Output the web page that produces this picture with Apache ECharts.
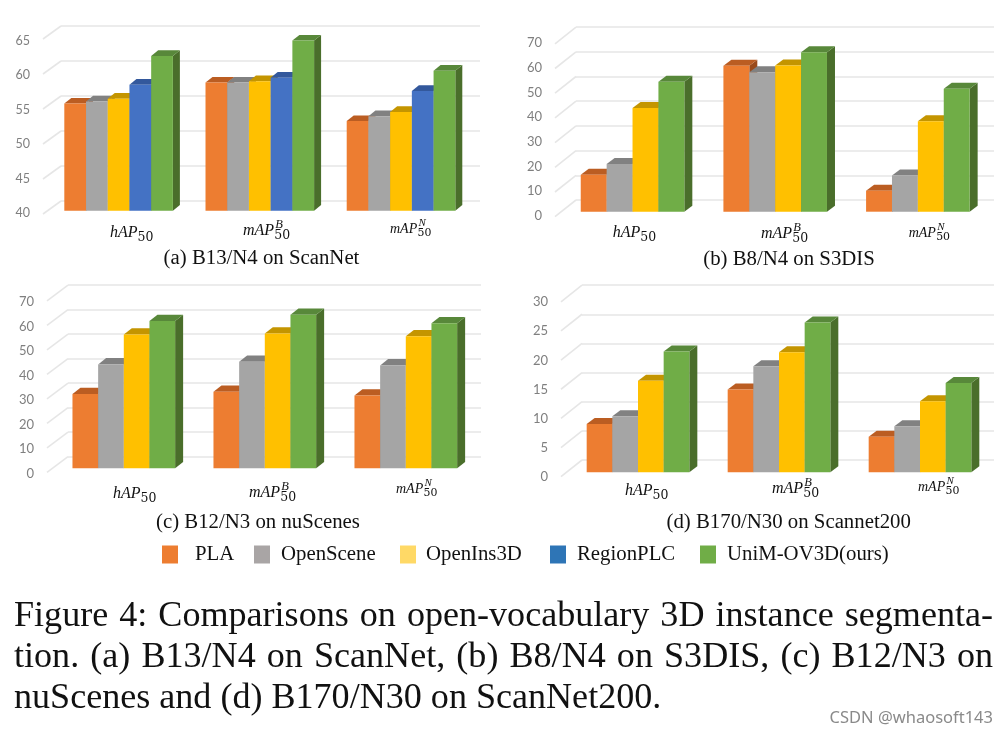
<!DOCTYPE html>
<html><head><meta charset="utf-8">
<style>html,body{margin:0;padding:0;background:#fff}#c{width:1007px;height:733px}</style>
<script src="https://cdn.jsdelivr.net/npm/echarts@6/dist/echarts.min.js"></script>
</head><body><div id="c"></div>
<script>
const categories = ['hAP','mAP','mAP'];
const subLabels = ['50','50','50'];
const supLabels = ['','B','N'];
const methods = ['PLA','OpenScene','OpenIns3D','RegionPLC','UniM-OV3D(ours)'];

const scannetPLA = [55.3,58.3,52.8];
const scannetOpenScene = [55.6,58.3,53.5];
const scannetOpenIns3D = [56.0,58.5,54.1];
const scannetRegionPLC = [58.0,59.0,57.1];
const scannetOurs = [62.1,64.3,60.0];

const s3disPLA = [15.0,59.1,8.5];
const s3disOpenScene = [19.3,56.5,14.7];
const s3disOpenIns3D = [42.0,59.2,36.6];
const s3disOurs = [52.6,64.6,49.8];

const nuscenesPLA = [30.3,31.2,29.7];
const nuscenesOpenScene = [42.4,43.5,42.0];
const nuscenesOpenIns3D = [54.6,55.0,53.9];
const nuscenesOurs = [60.1,62.7,59.2];

const sn200PLA = [8.3,14.2,6.1];
const sn200OpenScene = [9.6,18.2,7.9];
const sn200OpenIns3D = [15.7,20.6,12.2];
const sn200Ours = [20.7,25.7,15.3];

const axisA = {min:40,max:65,interval:5};
const axisB = {min:0,max:70,interval:10};
const axisC = {min:0,max:70,interval:10};
const axisD = {min:0,max:30,interval:5};

const captionTexts = ['(a) B13/N4 on ScanNet','(b) B8/N4 on S3DIS','(c) B12/N3 on nuScenes','(d) B170/N30 on Scannet200'];
const figureLines = ['Figure 4: Comparisons on open-vocabulary 3D instance segmenta-',
 'tion. (a) B13/N4 on ScanNet, (b) B8/N4 on S3DIS, (c) B12/N3 on',
 'nuScenes and (d) B170/N30 on ScanNet200.'];
const watermark = 'CSDN @whaosoft143';

const front = {PLA:'#ED7D31',OpenScene:'#A5A5A5',OpenIns3D:'#FFC000',RegionPLC:'#4472C4','UniM-OV3D(ours)':'#70AD47'};
const topC  = {PLA:'#BB5D22',OpenScene:'#818181',OpenIns3D:'#C49500',RegionPLC:'#33589C','UniM-OV3D(ours)':'#58883A'};
const sideC = {PLA:'#9A4A1A',OpenScene:'#6E6E6E',OpenIns3D:'#A37C00',RegionPLC:'#2B4A83','UniM-OV3D(ours)':'#4A6E2B'};
const legendC = {PLA:'#ED7D31',OpenScene:'#A9A5A5',OpenIns3D:'#FFD966',RegionPLC:'#2E75B6','UniM-OV3D(ours)':'#70AD47'};

const panels = [
 {axis:axisA, names:methods, vals:[scannetPLA,scannetOpenScene,scannetOpenIns3D,scannetRegionPLC,scannetOurs],
  wall:{l:61,r:480,b:201,ppu:7}, bars:{l:48,r:471.6,b:210.7,ppu:7,ratio:0.769,dx:7,dy:5.7},
  lab:{right:30,top:41,bottom:213,size:12.5}, diag:[-18,13], cat:[[110,233,16],[243,231,16],[390,229,14]]},
 {axis:axisB, names:[methods[0],methods[1],methods[2],methods[4]], vals:[s3disPLA,s3disOpenScene,s3disOpenIns3D,s3disOurs],
  wall:{l:576,r:994,b:200,ppu:2.47}, bars:{l:561.2,r:989.2,b:211.7,ppu:2.47,ratio:0.726,dx:8,dy:6},
  lab:{right:542,top:43,bottom:216,size:13}, diag:[-21,16.7], cat:[[612.7,233,16],[761,234,16],[908.7,233,14]]},
 {axis:axisC, names:[methods[0],methods[1],methods[2],methods[4]], vals:[nuscenesPLA,nuscenesOpenScene,nuscenesOpenIns3D,nuscenesOurs],
  wall:{l:68,r:481,b:456.7,ppu:2.45}, bars:{l:53.3,r:476.3,b:468.3,ppu:2.45,ratio:0.728,dx:8,dy:6.3},
  lab:{right:34,top:302,bottom:473.7,size:13}, diag:[-21,15.6], cat:[[113,494,16],[249,493,16],[396,489,14]]},
 {axis:axisD, names:[methods[0],methods[1],methods[2],methods[4]], vals:[sn200PLA,sn200OpenScene,sn200OpenIns3D,sn200Ours],
  wall:{l:582,r:994,b:460,ppu:5.83}, bars:{l:567.5,r:990.5,b:472.3,ppu:5.83,ratio:0.728,dx:8,dy:6},
  lab:{right:548,top:302,bottom:477,size:13}, diag:[-21,16.7], cat:[[625,491,16],[772,489,16],[918,487,14]]}
];
const captionPos = [[261.5,258.5],[789,259.5],[258,523],[788.7,522.5]];
const W = 1007, H = 733;
const serif = '"Liberation Serif","Times New Roman",serif';

const grid=[],xAxis=[],yAxis=[],series=[],graphic=[];
panels.forEach((p,pi)=>{
  const a=p.axis, span=a.max-a.min;
  const ax0=grid.length;
  grid.push({left:p.wall.l,width:p.wall.r-p.wall.l,top:p.wall.b-span*p.wall.ppu,height:span*p.wall.ppu});
  xAxis.push({gridIndex:ax0,type:'category',data:categories,show:false});
  yAxis.push({gridIndex:ax0,type:'value',min:a.min,max:a.max,interval:a.interval,
    axisLine:{show:false},axisTick:{show:false},axisLabel:{show:false},
    splitLine:{show:true,lineStyle:{color:'#E6E6E6',width:1.6}}});
  const ticks=[]; for(let t=a.min;t<=a.max;t+=a.interval) ticks.push([0,t]);
  series.push({type:'custom',silent:true,xAxisIndex:ax0,yAxisIndex:ax0,data:ticks,clip:false,z:1,
    encode:{x:0,y:1},
    renderItem:(params,api)=>{
      const y=api.coord([0,api.value(1)])[1];
      return {type:'line',shape:{x1:p.wall.l,y1:y,x2:p.wall.l+p.diag[0],y2:y+p.diag[1]},
        style:{stroke:'#E6E6E6',lineWidth:1.6}};
    }});
  const ax1=grid.length;
  grid.push({left:p.lab.right,width:10,top:p.lab.top,height:p.lab.bottom-p.lab.top});
  xAxis.push({gridIndex:ax1,type:'category',data:categories,show:false});
  yAxis.push({gridIndex:ax1,type:'value',min:a.min,max:a.max,interval:a.interval,
    axisLine:{show:false},axisTick:{show:false},splitLine:{show:false},
    axisLabel:{margin:0,color:'#7F7F7F',fontFamily:'Lato',fontSize:p.lab.size}});
  const ax2=grid.length;
  grid.push({left:p.bars.l,width:p.bars.r-p.bars.l,top:p.bars.b-span*p.bars.ppu,height:span*p.bars.ppu});
  xAxis.push({gridIndex:ax2,type:'category',data:categories,show:false});
  yAxis.push({gridIndex:ax2,type:'value',min:a.min,max:a.max,interval:a.interval,show:false});
  const n=p.names.length;
  p.names.forEach((name,si)=>{
    series.push({type:'custom',name,silent:true,xAxisIndex:ax2,yAxisIndex:ax2,clip:false,z:2+si,
      itemStyle:{color:front[name]},encode:{x:0,y:1},
      data:p.vals[si].map((v,i)=>[i,v]),
      renderItem:(params,api)=>{
        const i=api.value(0), pt=api.coord([i,api.value(1)]), base=api.coord([i,a.min])[1];
        const band=api.size([1,0])[0], gw=band*p.bars.ratio, bw=gw/n;
        const x=pt[0]-gw/2+si*bw, x2=x+bw, y=pt[1], dx=p.bars.dx, dy=p.bars.dy;
        return {type:'group',children:[
          {type:'polygon',shape:{points:[[x2,y],[x2+dx,y-dy],[x2+dx,base-dy],[x2,base]]},style:{fill:sideC[name]}},
          {type:'polygon',shape:{points:[[x,y],[x+dx,y-dy],[x2+dx,y-dy],[x2,y]]},style:{fill:topC[name]}},
          {type:'rect',shape:{x:x,y:y,width:bw,height:base-y},style:{fill:front[name]}}
        ]};
      }});
  });
  categories.forEach((c,i)=>{
    const [cx,cy,fs]=p.cat[i];
    const w=c==='hAP'?fs*1.72:fs*1.96;
    const ss=fs*0.78;
    graphic.push({type:'text',z:20,style:{text:c,x:cx,y:cy,fill:'#111',verticalAlign:'middle',font:`italic ${fs}px ${serif}`}});
    graphic.push({type:'text',z:20,style:{text:subLabels[i],x:cx+w,y:cy+fs*0.3,fill:'#111',verticalAlign:'middle',font:`${ss}px "DejaVu Serif",serif`}});
    if(supLabels[i]) graphic.push({type:'text',z:20,style:{text:supLabels[i],x:cx+w+1,y:cy-fs*0.42,fill:'#111',verticalAlign:'middle',font:`italic ${ss}px ${serif}`}});
  });
  graphic.push({type:'text',z:20,style:{text:captionTexts[pi],x:captionPos[pi][0],y:captionPos[pi][1],align:'center',verticalAlign:'middle',fill:'#111',font:`20.8px ${serif}`}});
});
const figY=[617,658,699], figFont=`36.1px ${serif}`, figRight=[993,993,0];
const mctx=document.createElement('canvas').getContext('2d'); mctx.font=figFont;
figureLines.forEach((t,i)=>{
  if(!figRight[i]){graphic.push({type:'text',z:20,style:{text:t,x:14,y:figY[i],verticalAlign:'middle',fill:'#111',font:figFont}});return;}
  const words=t.split(' '), total=words.reduce((s,w)=>s+mctx.measureText(w).width,0);
  const gap=(figRight[i]-14-total)/(words.length-1);
  let x=14;
  words.forEach(w=>{graphic.push({type:'text',z:20,style:{text:w,x,y:figY[i],verticalAlign:'middle',fill:'#111',font:figFont}});x+=mctx.measureText(w).width+gap;});
});
graphic.push({type:'text',z:20,style:{text:watermark,x:993,y:718,align:'right',verticalAlign:'middle',fill:'#8a8a8a',font:'16.5px "Noto Sans",sans-serif'}});

const legendPos=[[162,544,17],[254,544,11],[400,544,10],[550,544,11],[700,544,11]];
const legend=methods.map((m,i)=>({
  left:legendPos[i][0],top:legendPos[i][1],padding:0,itemWidth:16,itemHeight:18,selectedMode:false,
  data:[{name:m,icon:'rect',itemStyle:{color:legendC[m]}}],
  textStyle:{fontFamily:serif,fontSize:20.8,color:'#111',padding:[4,0,0,legendPos[i][2]-5]}
}));

const chart=echarts.init(document.getElementById('c'),null,{renderer:'canvas',width:W,height:H});
chart.setOption({animation:false,backgroundColor:'#fff',tooltip:{show:false},grid,xAxis,yAxis,series,legend,graphic});
</script></body></html>
